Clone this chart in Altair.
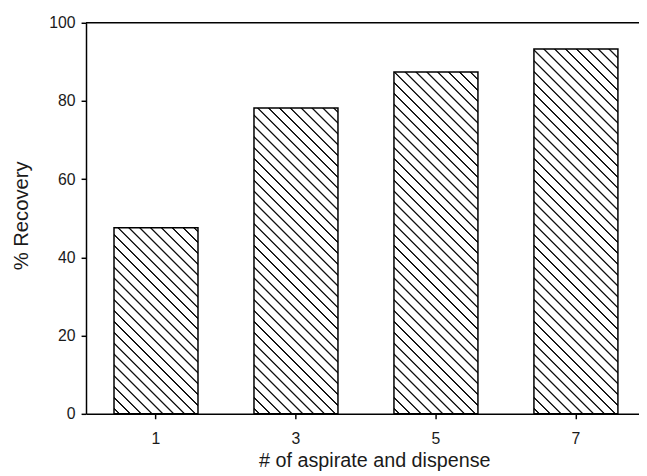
import altair as alt
import pandas as pd

categories = ["1", "3", "5", "7"]
recovery = [47.6, 78.2, 87.4, 93.3]
y_ticks = [0, 20, 40, 60, 80, 100]
x_title = "# of aspirate and dispense"
y_title = "% Recovery"

W_FULL = 567   # full band range of the x scale (right side is cropped)
W = 560        # visible plot width
H = 396
PAD_IN = 0.4
PAD_OUT = 0.2
step = W_FULL / (len(categories) - PAD_IN + 2 * PAD_OUT)
bw = step * (1 - PAD_IN)


def hatch(value, period=11.0, core=0.5, edge=1.4, ink="#111111"):
    w = bw
    h = value / 100.0 * H
    L = w + h
    k = L / (w * w + h * h)
    stops = [(0.0, "white")]
    c = period / 2.0
    while c - edge < L:
        for off, col in [(c - edge, "white"), (c - core, ink), (c + core, ink), (c + edge, "white")]:
            o = min(max(off / L, 0.0), 1.0)
            stops.append((o, col))
        c += period
    stops.append((1.0, "white"))
    fixed = []
    last = 0.0
    for o, col in stops:
        o = max(o, last)
        fixed.append(alt.GradientStop(offset=round(o, 5), color=col))
        last = o
    return alt.LinearGradient(gradient="linear", stops=fixed,
                              x1=0, y1=1, x2=k * w, y2=1 - k * h)


df = pd.DataFrame({"n": categories, "recovery": recovery})

FONT = "Liberation Sans"

base = alt.Chart(df).encode(
    x=alt.X("n:N", sort=categories,
            scale=alt.Scale(paddingInner=PAD_IN, paddingOuter=PAD_OUT, range=[0, W_FULL]),
            axis=alt.Axis(title=x_title, labelAngle=0, labelBaseline="alphabetic",
                          labelPadding=25, labelFontSize=16,
                          titleFontSize=20, titleX=292, titleY=53,
                          titleBaseline="alphabetic", titleAlign="center")),
    y=alt.Y("recovery:Q", scale=alt.Scale(domain=[0, 100], nice=False),
            axis=alt.Axis(values=y_ticks, title=y_title, grid=False,
                          labelPadding=6, labelFontSize=16,
                          titleFontSize=20.5, titleX=-65, titleY=195,
                          titleBaseline="middle", titleAlign="center")),
)

layers = [
    base.transform_filter(alt.datum.n == c).mark_bar(
        fill=hatch(v), stroke="black", strokeWidth=1.5)
    for c, v in zip(categories, recovery)
]

top_line = alt.Chart(pd.DataFrame({"top": [y_ticks[-1]]})).mark_rule(
    color="black", strokeWidth=1.5
).encode(y=alt.Y("top:Q"))

chart = alt.layer(*layers, top_line).properties(
    width=W, height=H,
    padding={"left": 79, "top": 12, "right": 0, "bottom": 60},
    autosize=alt.AutoSizeParams(type="none"),
).configure_view(
    stroke=None
).configure_axis(
    domainColor="black", domainWidth=1.5, tickColor="black", tickWidth=1.5,
    tickSize=5, labelColor="#1a1a1a", titleColor="#1a1a1a",
    labelFont=FONT, titleFont=FONT, titleFontWeight="normal",
)

chart.save("out.html", embed_options={"renderer": "svg", "actions": False})
